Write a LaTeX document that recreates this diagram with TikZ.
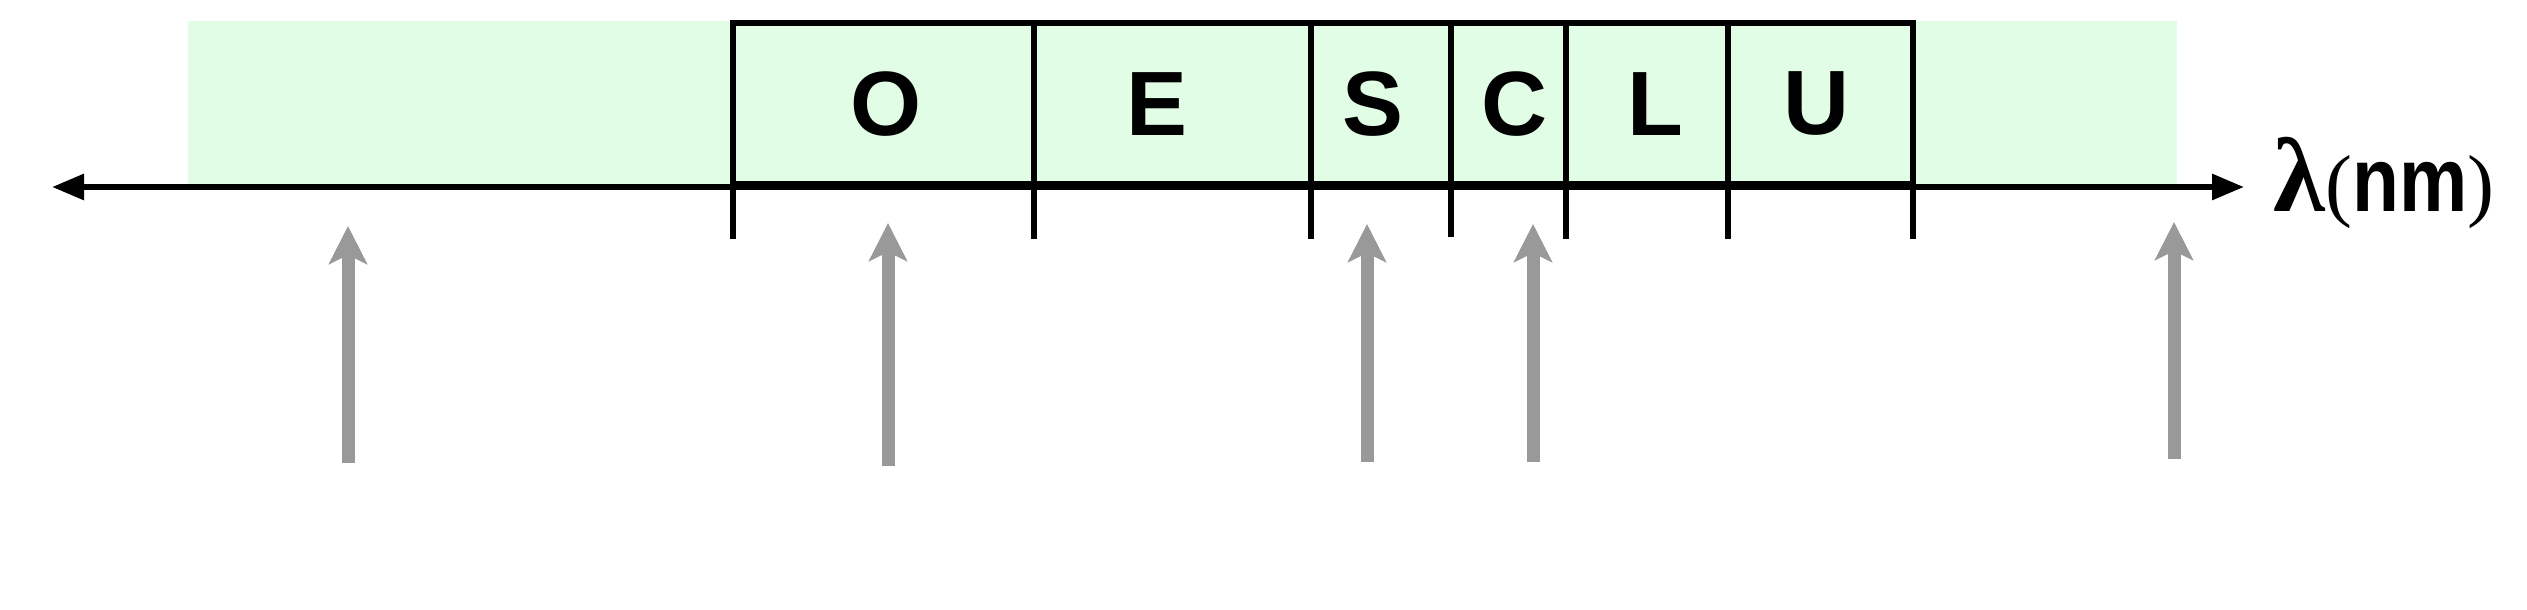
\documentclass[tikz,border=0pt]{standalone}
\usepackage{fontspec}
\setmainfont{Liberation Sans}
\newfontfamily\lamfont{Liberation Serif}
\usetikzlibrary{arrows.meta}
\definecolor{bandgreen}{RGB}{225,253,230}
\definecolor{pumpgray}{RGB}{153,153,153}

\begin{document}
\begin{tikzpicture}[
		bandlabel/.style = {font=\fontsize{26}{30}\selectfont\bfseries, inner sep=0pt},
		bandline/.style = {line width=0.6mm},
		axisline/.style = {line width=0.6mm, {Triangle[length=3.2mm, width=2.5mm]}-{Triangle[length=3.2mm, width=2.5mm]}},
		pump/.style = {draw=pumpgray, line width=1.3mm, -{Stealth[length=3.8mm, width=3.8mm, inset=0.9mm]}}
	]
				\useasboundingbox (0mm, -42.2mm) rectangle (252.7mm, 18.7mm);
				
				% background
				\fill[bandgreen] (18.8mm, 0mm) rectangle (217.7mm, 16.6mm);
				
				% bands
				\draw[bandline] (73.3mm, 0.3mm) rectangle (191.3mm, 16.4mm);
				\foreach \x/\yb in {73.3/-5.2, 103.4/-5.2, 131.1/-5.2, 145.1/-5.0, 156.6/-5.2, 172.8/-5.2, 191.3/-5.2}
					\draw[bandline] (\x mm, \yb mm) -- (\x mm, 16.4mm);
				
				% axis
				\coordinate (axL) at (5.2mm, 0mm);
				\coordinate (axR) at (224.4mm, 0mm);
				\draw[axisline] (axL) -- (axR);
				
				% band names
				\node[bandlabel] (bandO) at (88.6mm, 8.3mm) {O};
				\node[bandlabel] (bandE) at (115.7mm, 8.3mm) {E};
				\node[bandlabel] (bandS) at (137.3mm, 8.3mm) {S};
				\node[bandlabel] (bandC) at (151.4mm, 8.3mm) {C};
				\node[bandlabel] (bandL) at (165.5mm, 8.3mm) {L};
				\node[bandlabel] (bandU) at (181.6mm, 8.3mm) {U};
				
				% unit
				\node[bandlabel, anchor=base west] (unit) at (227.3mm, -2.4mm)
					{{\lamfont\fontsize{30}{34}\selectfont λ}{\lamfont\mdseries\fontsize{23}{27}\selectfont (}\scalebox{0.84}[1]{nm}{\lamfont\mdseries\fontsize{23}{27}\selectfont )}};
				
				% pump arrows
				\foreach \n/\x/\yb/\yt in {1/34.8/-27.6/-3.9, 2/88.8/-27.9/-3.6, 3/136.7/-27.5/-3.7, 4/153.3/-27.5/-3.7, 5/217.4/-27.2/-3.5} {
					\coordinate (pump\n b) at (\x mm, \yb mm);
					\coordinate (pump\n t) at (\x mm, \yt mm);
					\draw[pump] (pump\n b) -- (pump\n t);
				}
				
			\end{tikzpicture}
\end{document}
